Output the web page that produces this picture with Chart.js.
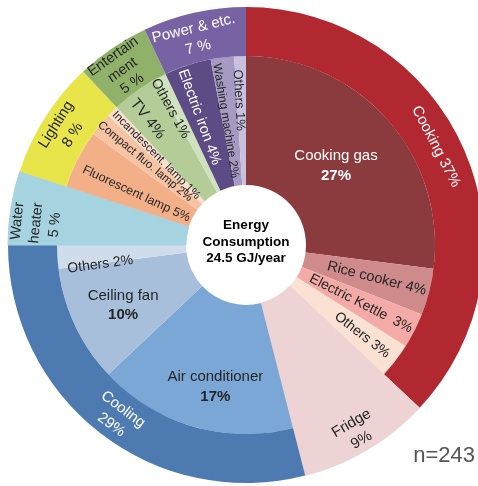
<!DOCTYPE html>
<html>
<head>
<meta charset="utf-8">
<script src="https://cdn.jsdelivr.net/npm/chart.js@4"></script>
<style>
  html, body { margin: 0; padding: 0; background: #fff; overflow: hidden; }
  #wrap { position: relative; width: 478px; height: 486px; overflow: hidden; }
  #energy { position: absolute; left: 0; top: 0; }
</style>
</head>
<body>
<div id="wrap"><canvas id="energy" width="492" height="490"></canvas></div>
<script>
// household energy use, % of total (outer ring = category, inner ring = appliance)
const groups = ['Cooking', 'Fridge', 'Cooling', 'Water heater', 'Lighting', 'Entertainment', 'Power & etc.'];
const groupShares = [37, 9, 29, 5, 8, 5, 7];

const items = ['Cooking gas', 'Rice cooker', 'Electric Kettle', 'Others', 'Fridge',
    'Air conditioner', 'Ceiling fan', 'Others', 'Water heater',
    'Fluorescent lamp', 'Compact fluo. lamp', 'Incandescent. lamp',
    'TV', 'Others', 'Electric iron', 'Washing machine', 'Others'];
const itemShares = [27, 4, 3, 3, 9, 17, 10, 2, 5, 5, 2, 1, 4, 1, 4, 2, 1];

const totalEnergy = 24.5;   // GJ/year
const sampleSize = 243;

const groupColors = ['#b22830', '#edd3d3', '#4d7bb1', '#a5d4e0', '#e8e54b', '#8fb169', '#7763a3'];
const itemColors = ['#8b3b3d', '#cf8b8c', '#f4aaa6', '#fbe1d3', '#edd3d3',
    '#7aa7d5', '#a7bfdb', '#cfdcea', '#a5d4e0',
    '#f3b088', '#f6c4a3', '#fadfce',
    '#b4cd98', '#d0e2bd', '#5c4b85', '#a699c2', '#c8c0dd'];

// slices that run through both rings get a same-colour stroke to hide the seam
const fullGroups = ['Fridge', 'Water heater'];

const FONT = '"Liberation Sans", Arial, Helvetica, sans-serif';
const DARK = '#262626';

const pct = (n, v) => [`${n} ${v}%`];
const twoLine = (n, v) => [n, `${v}%`];
const twoLineSp = (n, v) => [n, `${v} %`];

// label placement per ring: mode h = horizontal, radial, tan = along the arc
const ringLayout = [
    [
        {text: pct, mode: 'tan', r: 214, da: -4, color: '#fff'},
        {text: twoLine, mode: 'tan', r: 217, color: DARK},
        {text: twoLine, mode: 'tan', r: 215, da: -1, color: '#fff'},
        {text: (n, v) => ['Water', 'heater', `${v} %`], mode: 'tan', r: 211, da: -3, color: DARK, size: 14.5},
        {text: twoLineSp, mode: 'tan', r: 215, color: DARK},
        {text: (n, v) => ['Entertain', 'ment', `${v} %`], mode: 'tan', r: 214, da: -1, color: DARK, size: 14.5, lh: 1.15},
        {text: twoLineSp, mode: 'tan', r: 213, da: -1, color: '#fff'}
    ],
    [
        {text: twoLine, mode: 'h', r: 120, color: '#fff', boldLast: true},
        {text: pct, mode: 'radial', r: 135, color: DARK, size: 14.5},
        {text: (n, v) => [`${n}  ${v}%`], mode: 'radial', r: 129, color: DARK, size: 14},
        {text: pct, mode: 'radial', r: 147, color: DARK, size: 14},
        null,
        {text: twoLine, mode: 'h', r: 145, da: -4, color: DARK, boldLast: true},
        {text: twoLine, mode: 'h', r: 137, da: -1, color: DARK, boldLast: true},
        {text: pct, mode: 'radial', r: 147, da: -4, color: DARK, size: 14},
        null,
        {text: pct, mode: 'radial', r: 121, da: -2, color: DARK, size: 12.5},
        {text: pct, mode: 'radial', r: 131, color: DARK, size: 11.5},
        {text: pct, mode: 'radial', r: 127, color: DARK, size: 11.5},
        {text: pct, mode: 'radial', r: 160, da: -2, color: DARK, size: 15.5},
        {text: pct, mode: 'radial', r: 156, da: -2, color: DARK, size: 14},
        {text: pct, mode: 'radial', r: 136, da: -2, color: '#fff', size: 14.5},
        {text: pct, mode: 'radial', r: 126, da: -2, color: DARK, size: 12},
        {text: pct, mode: 'radial', r: 145, da: -1, color: DARK, size: 13}
    ]
];

const ringLabels = {
    id: 'ringLabels',
    afterDatasetsDraw(chart) {
        const ctx = chart.ctx;
        ringLayout.forEach((ring, di) => {
            const meta = chart.getDatasetMeta(di);
            const ds = chart.data.datasets[di];
            ring.forEach((lab, i) => {
                if (!lab) return;
                const arc = meta.data[i];
                const phi = (arc.startAngle + arc.endAngle) / 2 + (lab.da || 0) * Math.PI / 180;
                const x = arc.x + lab.r * Math.cos(phi);
                const y = arc.y + lab.r * Math.sin(phi);
                let rot = 0;
                if (lab.mode === 'radial') {
                    rot = phi;
                    if (Math.cos(rot) < 0) rot += Math.PI;
                } else if (lab.mode === 'tan') {
                    rot = phi + Math.PI / 2;
                    if (Math.cos(rot) < 0) rot += Math.PI;
                }
                const lines = lab.text(ds.names[i], ds.data[i]);
                const size = lab.size || 15;
                const lh = size * (lab.lh || 1.3);
                ctx.save();
                ctx.translate(x, y);
                ctx.rotate(rot);
                ctx.fillStyle = lab.color;
                ctx.textAlign = 'center';
                ctx.textBaseline = 'middle';
                lines.forEach((line, k) => {
                    const bold = lab.boldLast && k === lines.length - 1;
                    ctx.font = `${bold ? 'bold ' : ''}${size}px ${FONT}`;
                    ctx.fillText(line, 0, (k - (lines.length - 1) / 2) * lh);
                });
                ctx.restore();
            });
        });

        // caption in the hole
        const c = chart.getDatasetMeta(0).data[0];
        ctx.save();
        ctx.fillStyle = '#000';
        ctx.textAlign = 'center';
        ctx.textBaseline = 'middle';
        ctx.font = `bold 13.5px ${FONT}`;
        ['Energy', 'Consumption', `${totalEnergy} GJ/year`].forEach((line, k) => {
            ctx.fillText(line, c.x, c.y - 3 + (k - 1) * 16.5);
        });

        ctx.fillStyle = '#555';
        ctx.textAlign = 'right';
        ctx.textBaseline = 'alphabetic';
        ctx.font = `22px ${FONT}`;
        ctx.fillText(`n=${sampleSize}`, 475, 462);
        ctx.restore();
    }
};

const outerRadius = 238;
const holeRadius = 60;

new Chart(document.getElementById('energy'), {
    type: 'doughnut',
    data: {
        labels: items,
        datasets: [{
            names: groups,
            data: groupShares,
            backgroundColor: groupColors,
            borderColor: groups.map((g, i) => fullGroups.includes(g) ? groupColors[i] : '#fff'),
            borderWidth: groups.map(g => fullGroups.includes(g) ? 1 : 0),
            weight: 49
        }, {
            names: items,
            data: itemShares,
            backgroundColor: itemColors,
            borderColor: items.map((n, i) => fullGroups.includes(n) ? itemColors[i] : '#fff'),
            borderWidth: items.map(n => fullGroups.includes(n) ? 1 : 0),
            weight: 129
        }]
    },
    options: {
        responsive: false,
        animation: false,
        radius: outerRadius,
        cutout: (holeRadius / outerRadius * 100) + '%',
        layout: {padding: 0},
        plugins: {
            legend: {display: false},
            tooltip: {enabled: false}
        }
    },
    plugins: [ringLabels]
});
</script>
</body>
</html>
